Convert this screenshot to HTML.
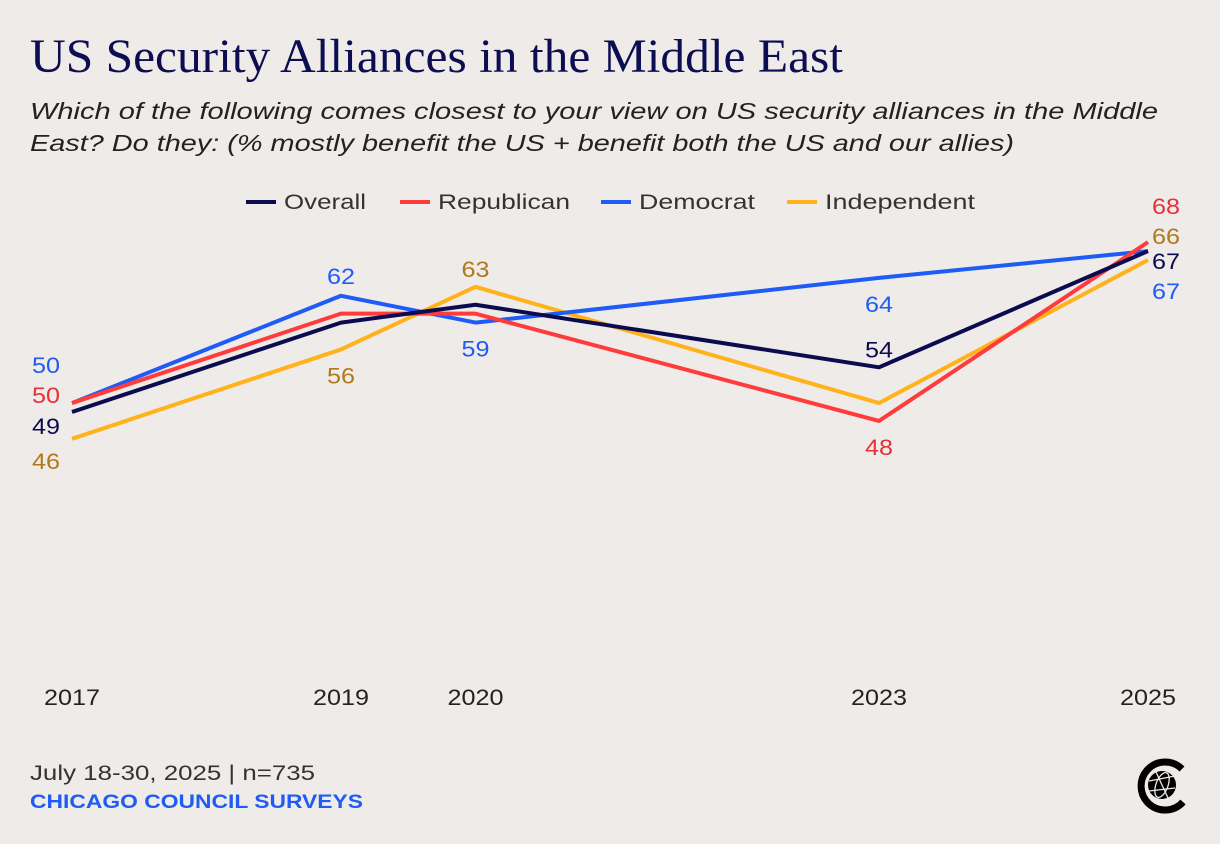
<!DOCTYPE html>
<html><head><meta charset="utf-8"><style>
body{margin:0;width:1220px;height:844px;background:#efebe8;overflow:hidden;font-family:"Liberation Sans",sans-serif;}
svg{position:absolute;left:0;top:0}
</style></head><body>
<svg width="1220" height="844">
<text x="30" y="72" font-family="Liberation Serif,serif" font-size="48" fill="#0d0d52" textLength="813" lengthAdjust="spacingAndGlyphs">US Security Alliances in the Middle East</text>
<text x="30" y="119" font-size="23" font-style="italic" fill="#222" textLength="1128" lengthAdjust="spacingAndGlyphs">Which of the following comes closest to your view on US security alliances in the Middle</text>
<text x="30" y="151" font-size="23" font-style="italic" fill="#222" textLength="984" lengthAdjust="spacingAndGlyphs">East? Do they: (% mostly benefit the US + benefit both the US and our allies)</text>
<g id="legend"></g>
<g id="axis"></g>
<g id="lines"></g>
<g id="labels"></g>
<text x="30" y="780" font-size="21" fill="#333" textLength="285" lengthAdjust="spacingAndGlyphs">July 18-30, 2025 | n=735</text>
<text x="30" y="808" font-size="19" font-weight="bold" fill="#1f5bf5" textLength="333" lengthAdjust="spacingAndGlyphs">CHICAGO COUNCIL SURVEYS</text>
<g>
<path d="M1182 769 A24 24 0 1 0 1183 802" fill="none" stroke="#000" stroke-width="7"/>
<circle cx="1162" cy="785" r="14" fill="#000"/>
<g stroke="#efebe8" stroke-width="1.3" fill="none">
<ellipse cx="1162" cy="785" rx="6" ry="13" transform="rotate(20 1162 785)"/>
<line x1="1149" y1="781" x2="1175" y2="776"/><line x1="1149" y1="791" x2="1175" y2="788"/>
<line x1="1156" y1="772" x2="1168" y2="798"/>
</g></g>
</svg>
<script>
const years=[2017,2019,2020,2023,2025];
const seriesNames=["Overall","Republican","Democrat","Independent"];
const overall=[49,59,61,54,67];
const republican=[50,60,60,48,68];
const democrat=[50,62,59,64,67];
const independent=[46,56,63,50,66];
const tickLabels=["2017","2019","2020","2023","2025"];
const lineColors=["#0b0b4f","#ff3b3b","#1f5bf5","#ffb21a"];
const labelColors=["#0b0b4f","#e8303a","#1f5bf5","#b07a1a"];
const NS="http://www.w3.org/2000/svg";
function x(yr){return 72+(yr-2017)*134.5;}
function y(v){return 412-(v-49)*8.94;}
function mk(t,a,p){const e=document.createElementNS(NS,t);for(const k in a)e.setAttribute(k,a[k]);document.getElementById(p).appendChild(e);return e;}
tickLabels.forEach((t,i)=>{const e=mk('text',{x:x(years[i]),y:705,'text-anchor':'middle','font-size':22,fill:'#222',textLength:56,lengthAdjust:'spacingAndGlyphs'},'axis');e.textContent=t;

});
const lx=[246,400,601,787];
const lw=[82,132,116,150];
seriesNames.forEach((n,i)=>{const l=mk('line',{x1:lx[i],x2:lx[i]+30,y1:202,y2:202,stroke:lineColors[i],'stroke-width':4},'legend');


const t=mk('text',{x:lx[i]+38,y:209,'font-size':21,fill:'#333',textLength:lw[i],lengthAdjust:'spacingAndGlyphs'},'legend');t.textContent=n;

});
const all=[overall,republican,democrat,independent];
[3,2,1,0].forEach(i=>{const d=all[i].map((v,j)=>(j?'L':'M')+x(years[j])+' '+y(all[i][j])).join(' ');
const p=mk('path',{d:d,fill:'none',stroke:lineColors[i],'stroke-width':4,'stroke-linejoin':'round'},'lines');

});
const offs=[
 [[-26,22],null,null,[0,-10],[18,18]],
 [[-26,0],null,null,[0,34],[18,-28]],
 [[-26,-30],[0,-12],[0,34],[0,34],[18,48]],
 [[-26,30],[0,34],[0,-10],null,[18,-16]]];
all.forEach((s,i)=>s.forEach((v,j)=>{const o=offs[i][j];if(!o)return;
const t=mk('text',{x:x(years[j])+o[0],y:y(v)+o[1],'text-anchor':'middle','font-size':22,fill:labelColors[i],textLength:28,lengthAdjust:'spacingAndGlyphs'},'labels');t.textContent=v;

}));
</script>
</body></html>
